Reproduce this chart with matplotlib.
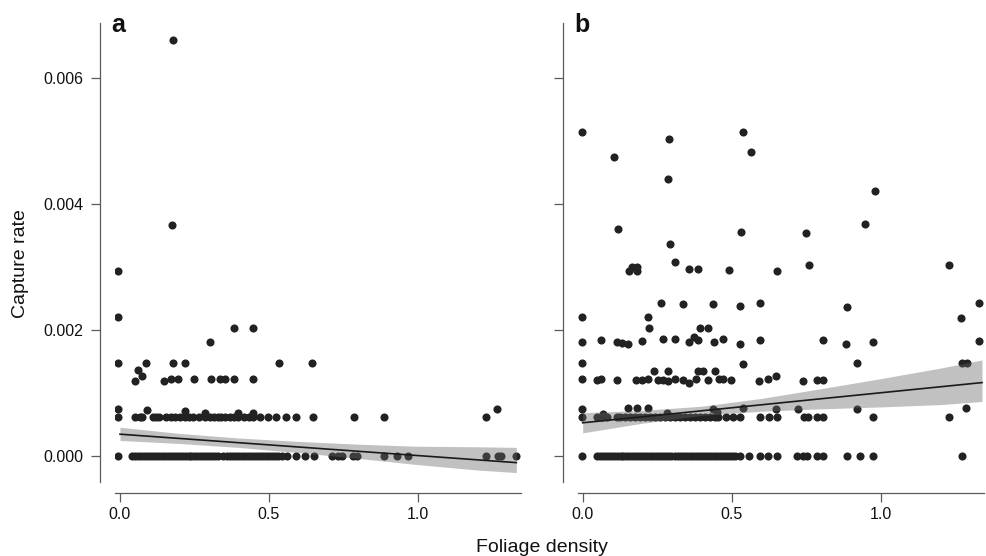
import matplotlib
matplotlib.use("Agg")
import matplotlib.pyplot as plt
import numpy as np

plt.rcParams["font.family"] = ["Liberation Sans", "DejaVu Sans"]

# ------------------------------------------------------------------
# data: foliage density (x) vs capture rate (y), two sites
# ------------------------------------------------------------------

# --- panel a ---
a_x_zero = [
    -0.005, 0.042, 0.05, 0.06, 0.07, 0.08, 0.09, 0.10, 0.11, 0.12, 0.13,
    0.14, 0.15, 0.16, 0.17, 0.18, 0.19, 0.20, 0.21, 0.22, 0.23, 0.24,
    0.25, 0.26, 0.27, 0.28, 0.29, 0.30, 0.31, 0.32, 0.33, 0.345, 0.36,
    0.37, 0.38, 0.39, 0.40, 0.41, 0.42, 0.43, 0.44, 0.45, 0.46, 0.47,
    0.48, 0.49, 0.50, 0.51, 0.52, 0.53, 0.545, 0.56, 0.59, 0.621, 0.65,
    0.713, 0.73, 0.745, 0.781, 0.797, 0.885, 0.928, 0.968, 1.228, 1.267,
    1.28, 1.329,
]
a_x_low = [
    -0.005, 0.049, 0.066, 0.074, 0.11, 0.12, 0.13, 0.156, 0.17, 0.183,
    0.20, 0.217, 0.23, 0.246, 0.266, 0.287, 0.302, 0.315, 0.328, 0.34,
    0.354, 0.37, 0.384, 0.396, 0.417, 0.432, 0.445, 0.47, 0.496, 0.524,
    0.557, 0.592, 0.647, 0.784, 0.885, 1.228,
]
a_low_rate = 0.00061

a_x_other = [
    0.177, 0.176, -0.005, -0.005, 0.384, 0.445, 0.302,
    -0.005, 0.089, 0.177, 0.217, 0.535, 0.646,
    0.062, 0.074, 0.049,
    0.149, 0.172, 0.195, 0.247, 0.305, 0.335, 0.353, 0.384, 0.448,
    -0.005, 0.09, 0.217, 1.266,
    0.287, 0.396, 0.445,
]
a_y_other = [
    0.00661, 0.00366, 0.00293, 0.0022, 0.00203, 0.00203, 0.0018,
    0.00147, 0.00147, 0.00147, 0.00147, 0.00147, 0.00147,
    0.00136, 0.00127, 0.00119,
    0.00119, 0.00122, 0.00122, 0.00122, 0.00122, 0.00121, 0.00121, 0.00122, 0.00122,
    0.00074, 0.00073, 0.00071, 0.000735,
    0.00068, 0.00068, 0.00068,
]

# fitted line and confidence band, panel a
a_fit_x = [0.0, 0.2, 0.4, 0.6, 0.8, 1.0, 1.2, 1.33]
a_fit_y = [0.00034, 0.000272, 0.000204, 0.000136, 0.000068, 0.0, -0.000068, -0.000112]
a_lo = [0.00024, 0.000192, 0.000129, 0.000047, -0.000045, -0.000144, -0.00023, -0.00027]
a_hi = [0.00045, 0.000352, 0.000279, 0.000225, 0.000181, 0.000148, 0.00014, 0.00013]

# --- panel b ---
b_x_zero = [
    -0.003, 0.047, 0.057, 0.067, 0.077, 0.087, 0.097, 0.107, 0.117, 0.127,
    0.137, 0.147, 0.157, 0.167, 0.177, 0.187, 0.197, 0.207, 0.217, 0.227,
    0.237, 0.247, 0.257, 0.267, 0.277, 0.287, 0.297, 0.31, 0.32, 0.33,
    0.34, 0.35, 0.36, 0.37, 0.38, 0.39, 0.40, 0.41, 0.42, 0.43, 0.44,
    0.45, 0.46, 0.47, 0.48, 0.49, 0.50, 0.51, 0.528, 0.559, 0.595, 0.623,
    0.651, 0.718, 0.74, 0.752, 0.785, 0.805, 0.888, 0.93, 0.973, 1.272,
]
b_x_low = [
    -0.003, 0.047, 0.064, 0.081, 0.114, 0.125, 0.142, 0.159, 0.176, 0.192,
    0.209, 0.226, 0.243, 0.259, 0.276, 0.293, 0.309, 0.326, 0.343, 0.36,
    0.376, 0.393, 0.41, 0.427, 0.443, 0.454, 0.482, 0.504, 0.527, 0.595,
    0.625, 0.652, 0.744, 0.755, 0.785, 0.805, 0.973, 1.23,
]
b_low_rate = 0.00061

b_x_other = [
    # ~0.0007
    -0.003, 0.067, 0.153, 0.181, 0.22, 0.284, 0.438, 0.45, 0.537, 0.649,
    0.722, 0.92, 1.285,
    # ~0.0012
    -0.003, 0.049, 0.061, 0.116, 0.179, 0.198, 0.22, 0.254, 0.268, 0.31,
    0.337, 0.381, 0.42, 0.458, 0.472, 0.498, 0.623, 0.738, 0.785, 0.805,
    0.285, 0.358, 0.593, 0.649,
    0.239, 0.285, 0.386, 0.403, 0.445,
    # ~0.0015
    -0.003, 0.537, 0.92, 1.272, 1.288,
    # ~0.0018
    -0.003, 0.061, 0.114, 0.131, 0.153, 0.198, 0.268, 0.31, 0.358, 0.374,
    0.386, 0.44, 0.47, 0.528, 0.596, 0.805, 0.885, 0.973, 1.33,
    # ~0.002 - 0.0024
    0.224, 0.394, 0.422,
    -0.003, 0.22, 1.269,
    0.262, 0.336, 0.438, 0.529, 0.596, 0.887, 1.33,
    # ~0.003
    0.154, 0.164, 0.183, 0.183, 0.356, 0.386, 0.49, 0.652, 0.31, 0.758, 1.23,
    # upper points
    0.294, 0.12, 0.532, 0.748, 0.946,
    0.982, 0.288, 0.104, 0.565, 0.29, -0.001, 0.539,
]
b_y_other = [
    0.00074, 0.00066, 0.00075, 0.00075, 0.00075, 0.00067, 0.00074, 0.00069, 0.00075, 0.00074,
    0.00074, 0.00074, 0.00075,
    0.00121, 0.0012, 0.00122, 0.0012, 0.0012, 0.0012, 0.00121, 0.0012, 0.0012, 0.00121,
    0.0012, 0.00121, 0.0012, 0.00122, 0.00121, 0.0012, 0.00121, 0.00119, 0.0012, 0.0012,
    0.00118, 0.00116, 0.00118, 0.00126,
    0.00134, 0.00134, 0.00134, 0.00134, 0.00134,
    0.00147, 0.00146, 0.00147, 0.00147, 0.00147,
    0.00181, 0.00184, 0.00181, 0.00179, 0.00177, 0.00182, 0.00185, 0.00185, 0.00181, 0.00188,
    0.00184, 0.0018, 0.00186, 0.00177, 0.00183, 0.00183, 0.00178, 0.0018, 0.00182,
    0.00203, 0.00203, 0.00203,
    0.00221, 0.00221, 0.00219,
    0.00243, 0.00241, 0.00241, 0.00237, 0.00243, 0.00236, 0.00242,
    0.00294, 0.003, 0.003, 0.00294, 0.00296, 0.00296, 0.00295, 0.00294, 0.00308, 0.00303, 0.00303,
    0.00337, 0.0036, 0.00355, 0.00354, 0.00368,
    0.0042, 0.0044, 0.00474, 0.00482, 0.00503, 0.00515, 0.00515,
]

# fitted line and confidence band, panel b
b_fit_x = [0.0, 0.2, 0.4, 0.6, 0.8, 1.0, 1.2, 1.34]
b_fit_y = [0.000521, 0.000616, 0.000712, 0.000807, 0.000903, 0.000998, 0.001093, 0.00116]
b_lo = [0.000361, 0.000514, 0.000639, 0.000705, 0.000743, 0.000773, 0.000810, 0.00086]
b_hi = [0.000681, 0.000718, 0.000785, 0.000909, 0.001063, 0.001223, 0.001390, 0.00152]

X_TICKS = [0.0, 0.5, 1.0]
X_TICK_LABELS = ["0.0", "0.5", "1.0"]
Y_TICKS = [0.0, 0.002, 0.004, 0.006]
Y_TICK_LABELS = ["0.000", "0.002", "0.004", "0.006"]

# ------------------------------------------------------------------
# plotting
# ------------------------------------------------------------------
W, H = 986, 556
fig = plt.figure(figsize=(W / 100, H / 100), dpi=100)

ax_w = 405.6 / W
ax_h = (482 - 23.3) / H
ax_bot = (H - 482) / H
ax_a = fig.add_axes([115.2 / W, ax_bot, ax_w, ax_h])
ax_b = fig.add_axes([577.9 / W, ax_bot, ax_w, ax_h])

SPINE = "#5a5a5a"
POINT = "#222222"


def draw_panel(ax, x_zero, x_low, low_rate, x_other, y_other, fx, fy, lo, hi, tag, left_labels):
    xs = np.concatenate([x_zero, x_low, x_other])
    ys = np.concatenate([np.zeros(len(x_zero)), np.full(len(x_low), low_rate), y_other])
    ax.scatter(xs, ys, s=34, color=POINT, linewidths=0, zorder=2)
    ax.fill_between(fx, lo, hi, color="#666666", alpha=0.4, linewidth=0, zorder=3)
    ax.plot(fx, fy, color="#1a1a1a", lw=1.2, zorder=4)

    ax.set_xlim(-0.016, 1.345)
    ax.set_ylim(-0.00042, 0.00687)
    ax.set_xticks(X_TICKS)
    ax.set_xticklabels(X_TICK_LABELS)
    ax.set_yticks(Y_TICKS)
    ax.set_yticklabels(Y_TICK_LABELS)

    for s in ["top", "right"]:
        ax.spines[s].set_visible(False)
    ax.spines["left"].set_position(("outward", 11.0))
    ax.spines["bottom"].set_position(("outward", 8.1))
    for s in ["left", "bottom"]:
        ax.spines[s].set_color(SPINE)
        ax.spines[s].set_linewidth(0.9)

    ax.tick_params(axis="both", direction="out", length=6.5, width=0.9,
                   color=SPINE, labelsize=11.5, labelcolor="#111111")
    ax.tick_params(axis="y", pad=5.5, labelleft=left_labels)
    ax.tick_params(axis="x", pad=3.5)

    # panel tag sits just inside the top-left corner
    ax.text(-0.01, 0.98, tag, transform=ax.transAxes, fontsize=18,
            fontweight="bold", ha="left", va="baseline", color="#111111")


draw_panel(ax_a, a_x_zero, a_x_low, a_low_rate, a_x_other, a_y_other,
           a_fit_x, a_fit_y, a_lo, a_hi, "a", True)
draw_panel(ax_b, b_x_zero, b_x_low, b_low_rate, b_x_other, b_y_other,
           b_fit_x, b_fit_y, b_lo, b_hi, "b", False)

fig.text(542 / W, (H - 551.7) / H, "Foliage density", ha="center", va="baseline",
         fontsize=14, color="#111111")
fig.text(21 / W, (H - 264) / H, "Capture rate", ha="center", va="center",
         rotation=90, fontsize=14, color="#111111")

fig.savefig("out.png", dpi=100)
